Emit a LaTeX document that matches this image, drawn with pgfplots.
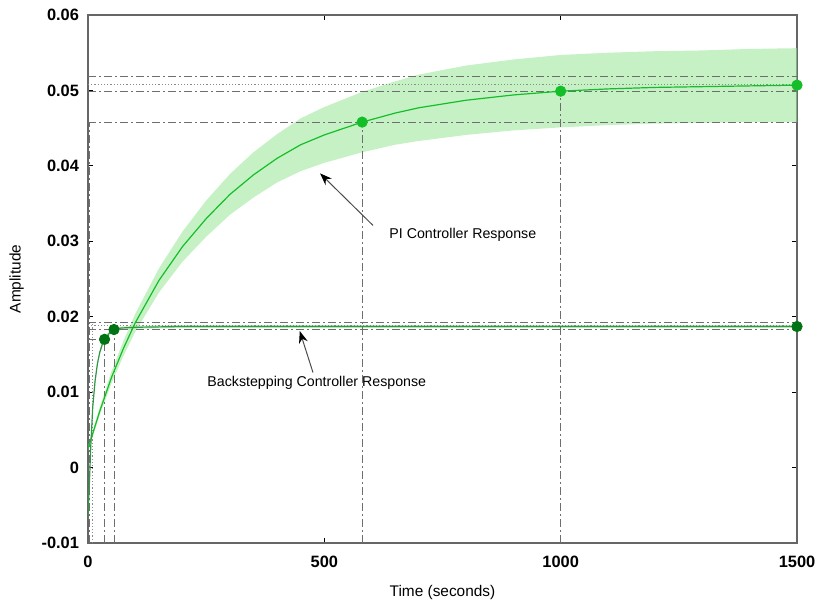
\documentclass[border=0pt]{standalone}
\usepackage{pgfplots}
\pgfplotsset{compat=1.18}
\usepgfplotslibrary{fillbetween}
\usetikzlibrary{arrows.meta}
\usepackage{fontspec}
\setmainfont{Liberation Sans}
\definecolor{pigreen}{RGB}{20,190,40}
\definecolor{bandgreen}{RGB}{150,230,150}
\definecolor{bsgreen}{RGB}{0,115,20}
\definecolor{bsline}{RGB}{50,150,70}
\definecolor{refgray}{RGB}{110,110,110}
\tikzset{refline/.style={refgray, line width=0.45pt, dash pattern=on 4pt off 1.5pt on 1pt off 1.5pt},
         refdot/.style={refgray!80, line width=0.4pt, dash pattern=on 0.6pt off 1pt}}
\begin{document}
\begin{tikzpicture}
\begin{axis}[
  scale only axis, width=354.5pt, height=264pt,
  xmin=0, xmax=1500, ymin=-0.01, ymax=0.06,
  xtick={0,500,1000,1500}, xticklabels={0,500,1000,1500},
  ytick={-0.01,0,0.01,0.02,0.03,0.04,0.05,0.06},
  yticklabels={-0.01,0,0.01,0.02,0.03,0.04,0.05,0.06},
  scaled y ticks=false,
  tick align=inside, major tick length=2.5pt,
  tick style={black, line width=0.5pt},
  axis line style={draw=black!60, line width=0.6pt},
  ticklabel style={font=\fontsize{8.2}{9}\selectfont\bfseries},
  xticklabel style={yshift=-3pt},
  yticklabel style={xshift=-1pt},
  xlabel={Time (seconds)}, ylabel={Amplitude},
  label style={font=\fontsize{7.7}{9}\selectfont},
  xlabel style={yshift=-2pt},
  ylabel style={yshift=2pt},
  clip=true,
]
% reference lines
\addplot[refline] coordinates {(0,0.0519) (1500,0.0519)};
\addplot[refline] coordinates {(0,0.0499) (1500,0.0499)};
\addplot[refline] coordinates {(0,0.0458) (1500,0.0458)};
\addplot[refdot] coordinates {(0,0.0508) (1500,0.0508)};
\addplot[refline] coordinates {(0,0.0192) (1500,0.0192)};
\addplot[refline] coordinates {(0,0.0183) (1500,0.0183)};
\addplot[refdot] coordinates {(0,0.0188) (1500,0.0188)};
\addplot[refline] coordinates {(0,0.0170) (35,0.0170)};
\addplot[refline] coordinates {(4,-0.01) (4,0.0458)};
\addplot[refdot] coordinates {(9,-0.01) (9,0.0192)};
\addplot[refline] coordinates {(35,-0.01) (35,0.0170)};
\addplot[refline] coordinates {(55,-0.01) (55,0.0183)};
\addplot[refline] coordinates {(580,-0.01) (580,0.0458)};
\addplot[refline] coordinates {(1000,-0.01) (1000,0.0499)};
% PI band
\addplot[name path=up, draw=none] coordinates {
(0,0.0028) (10,0.0049) (25,0.0080) (50,0.0128) (75,0.0168) (100,0.0204)
(150,0.0264) (200,0.0313) (250,0.0354) (300,0.0389) (350,0.0418) (400,0.0442)
(450,0.0463) (500,0.0478) (580,0.0498) (650,0.0512) (700,0.0521) (800,0.0533)
(900,0.0541) (1000,0.0547) (1100,0.0550) (1200,0.0552) (1300,0.0553) (1400,0.0555) (1500,0.0556)};
\addplot[name path=lo, draw=none] coordinates {
(0,0.0022) (10,0.0041) (25,0.0070) (50,0.0112) (75,0.0148) (100,0.0180)
(150,0.0232) (200,0.0273) (250,0.0306) (300,0.0335) (350,0.0358) (400,0.0378)
(450,0.0393) (500,0.0404) (580,0.0418) (650,0.0428) (700,0.0433) (800,0.0441)
(900,0.0447) (1000,0.0451) (1100,0.0454) (1200,0.0456) (1300,0.0457) (1400,0.0458) (1500,0.0458)};
\addplot[bandgreen, fill opacity=0.55, draw=none] fill between[of=up and lo];
% PI line
\addplot[pigreen, line width=0.6pt] coordinates {
(0,0.0025) (10,0.0045) (25,0.0075) (50,0.0120) (75,0.0158) (100,0.0192)
(150,0.0248) (200,0.0293) (250,0.0330) (300,0.0362) (350,0.0388) (400,0.0410)
(450,0.0428) (500,0.0441) (580,0.0458) (650,0.0470) (700,0.0477) (800,0.0487)
(900,0.0494) (1000,0.0499) (1100,0.0502) (1200,0.0504) (1300,0.0505) (1400,0.0506) (1500,0.0507)};
% backstepping band
\addplot[name path=bsup, draw=none] coordinates {
(0,-0.0060) (3,-0.0015) (6,0.0035) (10,0.0084) (15,0.0118) (20,0.0141) (25,0.0156)
(30,0.0166) (35,0.0173) (45,0.0181) (55,0.0185) (70,0.0187) (100,0.0188) (200,0.0189) (1500,0.0189)};
\addplot[name path=bslo, draw=none] coordinates {
(0,-0.0070) (3,-0.0025) (6,0.0025) (10,0.0076) (15,0.0112) (20,0.0135) (25,0.0150)
(30,0.0160) (35,0.0167) (45,0.0175) (55,0.0181) (70,0.0183) (100,0.0184) (200,0.0185) (1500,0.0185)};
\addplot[bandgreen, fill opacity=0.55, draw=none] fill between[of=bsup and bslo];
\addplot[bsline, line width=0.6pt] coordinates {
(0,-0.0065) (3,-0.0020) (6,0.0030) (10,0.0080) (15,0.0115) (20,0.0138) (25,0.0153)
(30,0.0163) (35,0.0170) (45,0.0178) (55,0.0183) (70,0.0185) (100,0.0186) (200,0.0187) (1500,0.0187)};
% markers
\addplot[only marks, mark=*, mark size=2.6pt, mark options={draw=pigreen, fill=pigreen}] coordinates {
(580,0.0458) (1000,0.0499) (1500,0.0507)};
\addplot[only marks, mark=*, mark size=2.6pt, mark options={draw=bsgreen, fill=bsgreen}] coordinates {
(35,0.0170) (55,0.0183) (1500,0.0187)};
% annotations
\draw[black!70, line width=0.5pt, -{Stealth[length=6pt, width=4.5pt, black]}] (axis cs:603,0.0321) -- (axis cs:491,0.0390);
\node[font=\fontsize{7.1}{8}\selectfont] at (axis cs:793,0.0308) {PI Controller Response};
\draw[black!70, line width=0.5pt, -{Stealth[length=6pt, width=4.5pt, black]}] (axis cs:476,0.0126) -- (axis cs:448,0.0181);
\node[font=\fontsize{7.1}{8}\selectfont] at (axis cs:484,0.0113) {Backstepping Controller Response};
\end{axis}
\pgfresetboundingbox
\useasboundingbox (-44pt,-30pt) rectangle (365pt,271.5pt);
\end{tikzpicture}
\end{document}
